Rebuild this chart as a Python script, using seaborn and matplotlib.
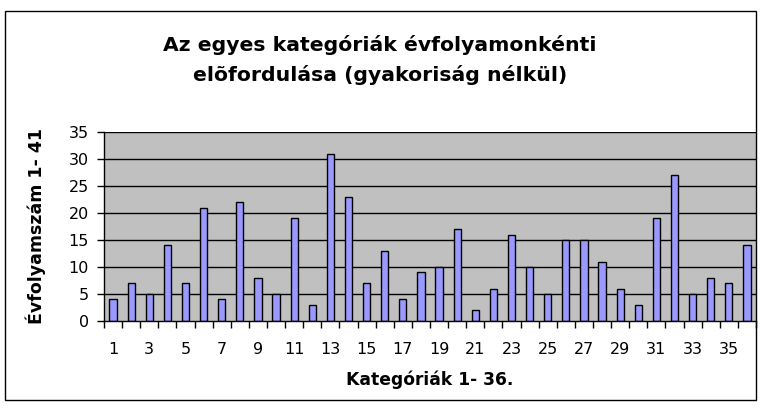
import matplotlib
matplotlib.use("Agg")
import matplotlib.pyplot as plt
import seaborn as sns
import pandas as pd
from matplotlib.patches import Rectangle
from matplotlib.ticker import FixedLocator

categories = [str(i) for i in range(1, 37)]
values = [4, 7, 5, 14, 7, 21, 4, 22, 8, 5, 19, 3, 31, 23, 7, 13, 4, 9, 10, 17,
          2, 6, 16, 10, 5, 15, 15, 11, 6, 3, 19, 27, 5, 8, 7, 14]
y_ticks = [0, 5, 10, 15, 20, 25, 30, 35]

title = "Az egyes kategóriák évfolyamonkénti\nelõfordulása (gyakoriság nélkül)"
xlabel = "Kategóriák 1- 36."
ylabel = "Évfolyamszám 1- 41"

df = pd.DataFrame({"cat": categories, "val": values})

sns.set_style("white")
plt.rcParams["font.family"] = ["DejaVu Sans"]
plt.rcParams["text.color"] = "black"
plt.rcParams["axes.labelcolor"] = "black"
plt.rcParams["xtick.color"] = "black"
plt.rcParams["ytick.color"] = "black"

W, H = 762, 408
fig = plt.figure(figsize=(W / 100, H / 100), dpi=100)
fig.patch.set_facecolor("white")
fig.patches.append(Rectangle((5 / W, 1 - 400 / H), 751 / W, 389 / H,
                             transform=fig.transFigure, fill=False,
                             edgecolor="black", linewidth=1.0))

ax = fig.add_axes([104 / W, 1 - 321 / H, 652 / W, 189 / H])
ax.set_facecolor("#C0C0C0")
ax.set_axisbelow(True)
for t in y_ticks[1:]:
    ax.axhline(t, color="black", linewidth=1.0, zorder=0.5)
sns.barplot(data=df, x="cat", y="val", ax=ax, color="#9999FF",
            edgecolor="black", linewidth=1.0, width=0.4, saturation=1, zorder=2)

ax.set_xlim(-0.5, 35.5)
ax.set_ylim(0, 35)
ax.set_yticks(y_ticks)
ax.set_yticklabels([str(t) for t in y_ticks], fontsize=11.5, color="black")

ax.xaxis.set_major_locator(FixedLocator(list(range(36))))
ax.set_xticklabels([c if i % 2 == 0 else "" for i, c in enumerate(categories)],
                   fontsize=11.5, color="black")
ax.xaxis.set_minor_locator(FixedLocator([i + 0.5 for i in range(-1, 36)]))
ax.tick_params(axis="x", which="both", bottom=True)
ax.tick_params(axis="y", which="both", left=True)
ax.tick_params(axis="x", which="major", length=0, pad=15)
ax.tick_params(axis="x", which="minor", length=5, width=1, color="black", direction="out")
ax.tick_params(axis="y", which="major", length=5, width=1, color="black", direction="out", pad=6)

for s in ["top", "right"]:
    ax.spines[s].set_visible(False)
for s in ["left", "bottom"]:
    ax.spines[s].set_color("black")
    ax.spines[s].set_linewidth(1.0)

ax.set_xlabel(xlabel, fontsize=12.3, fontweight="bold", labelpad=10, color="black")
ax.set_ylabel(ylabel, fontsize=12.5, fontweight="bold", labelpad=16, color="black")

fig.text(380 / W, 1 - 60 / H, title, ha="center", va="center", color="black",
         fontsize=14.7, fontweight="bold", linespacing=1.6)

fig.savefig("out.png", dpi=100)
